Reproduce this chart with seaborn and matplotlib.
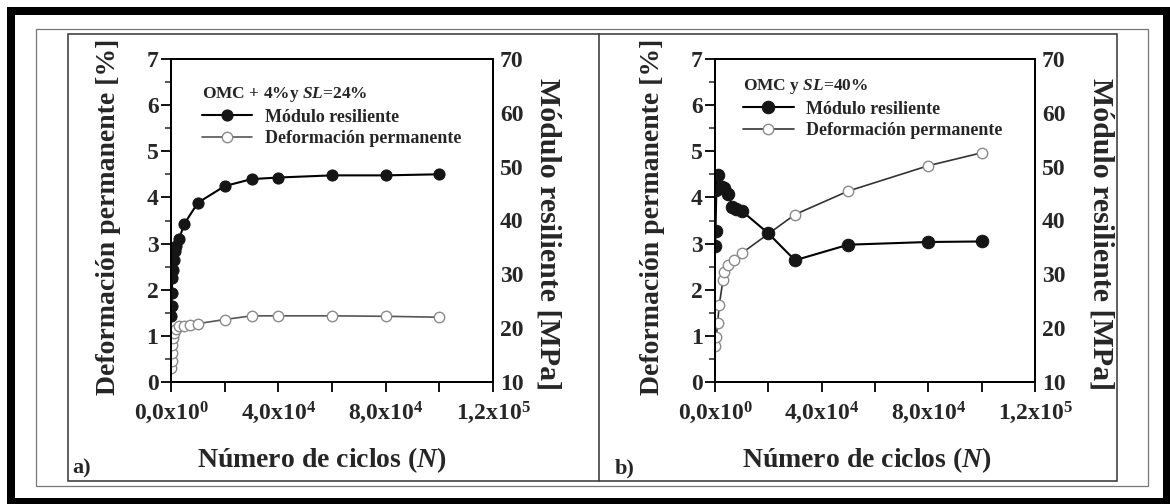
import matplotlib
matplotlib.use("Agg")
import matplotlib.pyplot as plt
import seaborn as sns
from matplotlib.patches import Rectangle
from matplotlib.lines import Line2D
from matplotlib.ticker import MultipleLocator

# ---------------- data ----------------
# Panel a) OMC + 4% y SL=24%
cycles_a_mr = [100, 200, 300, 500, 700, 1000, 1500, 2000, 3000, 5000,
               10000, 20000, 30000, 40000, 60000, 80000, 100000]
mr_a = [22.2, 24.0, 26.5, 29.3, 30.8, 32.7, 34.3, 35.2, 36.6, 39.4,
        43.3, 46.4, 47.7, 48.0, 48.4, 48.4, 48.6]
cycles_a_dp = [100, 200, 300, 500, 700, 1000, 2000, 3000, 5000, 7000,
               10000, 20000, 30000, 40000, 60000, 80000, 100000]
dp_a = [0.30, 0.45, 0.62, 0.80, 0.95, 1.05, 1.15, 1.20, 1.22, 1.24,
        1.26, 1.35, 1.43, 1.43, 1.43, 1.42, 1.40]

# Panel b) OMC y SL=40%
cycles_b_mr = [100, 200, 500, 1000, 2500, 3500, 5000, 6500, 8000, 10000,
               20000, 30000, 50000, 80000, 100000]
mr_b = [35.3, 38.1, 45.7, 48.5, 46.3, 46.0, 44.9, 42.6, 42.2, 41.8,
        37.6, 32.6, 35.5, 36.0, 36.1]
cycles_b_dp = [50, 500, 1000, 1600, 3000, 3500, 5000, 7000, 10000,
               30000, 50000, 80000, 100000]
dp_b = [0.78, 0.98, 1.28, 1.67, 2.21, 2.39, 2.53, 2.64, 2.79,
        3.63, 4.14, 4.69, 4.97]

x_ticks = [0, 20000, 40000, 60000, 80000, 100000, 120000]
x_ticklabels = ['0,0x10$^0$', '', '4,0x10$^4$', '', '8,0x10$^4$', '', '1,2x10$^5$']
titles = ['OMC + 4%y $SL$=24%', 'OMC y $SL$=40%']
tags = ['a)', 'b)']
label_mr = 'Módulo resiliente'
label_dp = 'Deformación permanente'
xlabel = 'Número de ciclos ($N$)'
ylabel_left = 'Deformación permanente [%]'
ylabel_right = 'Módulo resiliente [MPa]'

# ---------------- style ----------------
sns.set_style("ticks")
plt.rcParams['font.family'] = ['Liberation Serif', 'DejaVu Serif']
plt.rcParams['font.weight'] = 'bold'
plt.rcParams['axes.labelweight'] = 'bold'
plt.rcParams['mathtext.fontset'] = 'custom'
plt.rcParams['mathtext.rm'] = 'Liberation Serif:bold'
plt.rcParams['mathtext.it'] = 'Liberation Serif:italic:bold'
plt.rcParams['mathtext.bf'] = 'Liberation Serif:bold'

W, H = 1170, 504
fig = plt.figure(figsize=(W / 100, H / 100), dpi=100, facecolor='white')


def px_rect(x0, y0, x1, y1):
    return [x0 / W, 1 - y1 / H, (x1 - x0) / W, (y1 - y0) / H]


# decorations: thick black border, thin frames, divider
fig.add_artist(Rectangle((7 / W, 0), 1 - 7 / W, 1 - 7 / H, transform=fig.transFigure,
                         facecolor='black', edgecolor='none', zorder=-6))
fig.add_artist(Rectangle((15 / W, 6 / H), (1163 - 15) / W, (498 - 15) / H,
                         transform=fig.transFigure, facecolor='white',
                         edgecolor='none', zorder=-5))
fig.add_artist(Rectangle((35.7 / W, 1 - 486 / H), (1148 - 35.7) / W, (486 - 29.3) / H,
                         transform=fig.transFigure, fill=False, edgecolor='#777777',
                         lw=0.9, zorder=-4))
fig.add_artist(Rectangle((68 / W, 1 - 480.5 / H), (1117 - 68) / W, (480.5 - 34.3) / H,
                         transform=fig.transFigure, fill=False, edgecolor='#333333',
                         lw=1.1, zorder=-4))
fig.add_artist(Line2D([599 / W, 599 / W], [1 - 480.5 / H, 1 - 34.3 / H],
                      transform=fig.transFigure, color='#333333', lw=1.1, zorder=-4))


def panel(rect, cyc_mr, mr, cyc_dp, dp, title, tag, tag_x, leg_xy,
          ylab_x, yrlab_x, xlab_x, ms_mr, dp_line):
    ax = fig.add_axes(px_rect(*rect))
    ax2 = ax.twinx()
    sns.lineplot(x=cyc_dp, y=dp, ax=ax, color=dp_line, lw=1.2, marker='o',
                 markersize=7.5, markerfacecolor='white', markeredgecolor='#8a8a8a',
                 markeredgewidth=1.0, legend=False)
    sns.lineplot(x=cyc_mr, y=mr, ax=ax2, color='black', lw=1.5, marker='o',
                 markersize=ms_mr, markerfacecolor='#151515', markeredgecolor='#151515',
                 legend=False)
    ax.set_xlim(0, 120000)
    ax.set_ylim(0, 7)
    ax2.set_ylim(10, 70)
    ax.set_xticks(x_ticks)
    ax.set_xticklabels(x_ticklabels)
    ax.yaxis.set_major_locator(MultipleLocator(1))
    ax.yaxis.set_minor_locator(MultipleLocator(0.5))
    ax2.yaxis.set_major_locator(MultipleLocator(10))
    ax.tick_params(axis='both', which='major', direction='out', length=7, width=1.3,
                   labelsize=17, color='black')
    ax.tick_params(axis='x', pad=6)
    ax.tick_params(axis='y', pad=2)
    ax.tick_params(axis='y', which='minor', direction='out', length=4, width=1.1)
    ax2.tick_params(axis='y', length=0, pad=5, labelsize=17)
    for a in (ax, ax2):
        for s in a.spines.values():
            s.set_visible(True)
            s.set_linewidth(1.4)
            s.set_color('black')
    ax.set_xlabel(xlabel, fontsize=20, va='center', fontweight='bold')
    ax.xaxis.set_label_coords(xlab_x, -0.243)
    ax.set_ylabel(ylabel_left, fontsize=20, va='center', fontweight='bold')
    ax.yaxis.set_label_coords(ylab_x, 0.51)
    ax2.set_ylabel(ylabel_right, fontsize=21.5, rotation=270, va='center',
                   fontweight='bold')
    ax2.yaxis.set_label_coords(yrlab_x, 0.457)
    handles = [ax2.lines[0], ax.lines[0]]
    ax2.legend(handles, [label_mr, label_dp], title=title, loc='upper left',
               bbox_to_anchor=leg_xy, frameon=False, fontsize=13,
               title_fontsize=12.5, alignment='left', handlelength=2.8,
               handletextpad=0.7, labelspacing=0.25, borderpad=0,
               borderaxespad=0)
    fig.text(tag_x / W, 1 - 468 / H, tag, fontsize=16, ha='left', va='center')
    return ax, ax2


panel((171, 59.3, 493, 381.7), cycles_a_mr, mr_a, cycles_a_dp, dp_a, titles[0], tags[0],
      72, (0.095, 0.92), -0.193, 1.17, 0.47, 8, '#555555')
panel((715, 59.3, 1035, 381.7), cycles_b_mr, mr_b, cycles_b_dp, dp_b, titles[1], tags[1],
      615, (0.0875, 0.945), -0.194, 1.205, 0.475, 9, '#333333')

fig.savefig('out.png', dpi=100, facecolor='white')
